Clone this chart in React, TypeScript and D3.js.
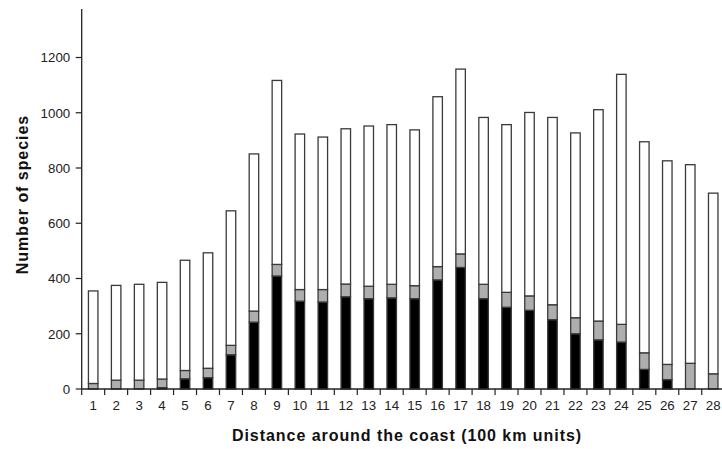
import React from "react";
import * as d3 from "d3";

const categories = Array.from({ length: 28 }, (_, i) => String(i + 1));
const blackVals = [0, 0, 0, 5, 37, 41, 124, 242, 409, 318, 315, 334, 327, 330, 327, 395, 440, 327, 296, 285, 251, 200, 178, 170, 71, 34, 0, 0];
const grayVals = [20, 32, 32, 31, 30, 34, 34, 40, 42, 42, 45, 46, 45, 49, 47, 48, 49, 52, 54, 52, 54, 58, 68, 64, 60, 55, 93, 55];
const whiteVals = [335, 343, 347, 350, 399, 418, 487, 569, 666, 563, 552, 562, 580, 578, 564, 615, 669, 604, 607, 664, 678, 669, 765, 905, 764, 737, 719, 654];
const yTicks = [0, 200, 400, 600, 800, 1000, 1200];
const seriesKeys = ["black", "gray", "white"];
const seriesFill: Record<string, string> = { black: "#000000", gray: "#aeaeae", white: "#ffffff" };

const W = 722;
const H = 449;
const x0 = 81.7;
const x1 = 724.7;
const yBase = 389;
const yTopVal = 1200;
const yTopPx = 57.5;

export default function App() {
  const rows = categories.map((c, i) => ({ cat: c, black: blackVals[i], gray: grayVals[i], white: whiteVals[i] }));
  const stack = d3.stack<any>().keys(seriesKeys)(rows);
  const x = d3.scaleBand().domain(categories).range([x0, x1]).paddingInner(0).paddingOuter(0);
  const y = d3.scaleLinear().domain([0, yTopVal]).range([yBase, yTopPx]);
  const bw = 9.5;
  const font = "'Liberation Sans', Arial, Helvetica, sans-serif";
  const tickBounds = d3.range(categories.length + 1).map((i) => x0 + i * x.bandwidth());

  return (
    <svg width={W} height={H} style={{ position: "absolute", left: 0, top: 0, background: "#fff" }} fontFamily={font}>
      {stack.map((s) => (
        <g key={s.key}>
          {s.map((d, i) => {
            const h = y(d[0]) - y(d[1]);
            if (h <= 0) return null;
            const cx = (x(categories[i]) as number) + x.bandwidth() / 2;
            return (
              <rect
                key={i}
                x={cx - bw / 2}
                y={y(d[1])}
                width={bw}
                height={h}
                fill={seriesFill[s.key]}
                stroke="#3a3a3a"
                strokeWidth={1.3}
              />
            );
          })}
        </g>
      ))}
      {/* y axis */}
      <line x1={x0} x2={x0} y1={9} y2={yBase} stroke="#222" strokeWidth={1.3} />
      {yTicks.map((t) => (
        <g key={t}>
          <line x1={x0 - 6} x2={x0} y1={y(t)} y2={y(t)} stroke="#222" strokeWidth={1.2} />
          <text x={x0 - 11.5} y={y(t)} dy="0.36em" textAnchor="end" fontSize={13.3} fill="#222">
            {t}
          </text>
        </g>
      ))}
      {/* x axis */}
      <line x1={x0} x2={x1} y1={yBase} y2={yBase} stroke="#222" strokeWidth={1.3} />
      {tickBounds.map((t, i) => (
        <line key={i} x1={t} x2={t} y1={yBase} y2={yBase + 6} stroke="#222" strokeWidth={1.2} />
      ))}
      {categories.map((c) => (
        <text key={c} x={(x(c) as number) + x.bandwidth() / 2} y={410} textAnchor="middle" fontSize={13.3} fill="#222">
          {c}
        </text>
      ))}
      <text x={407} y={441} textAnchor="middle" fontSize={16} letterSpacing={0.95} fontWeight="bold" fill="#111">
        Distance around the coast (100 km units)
      </text>
      <text transform="translate(28.3,194.5) rotate(-90)" textAnchor="middle" fontSize={16} letterSpacing={0.95} fontWeight="bold" fill="#111">
        Number of species
      </text>
    </svg>
  );
}
